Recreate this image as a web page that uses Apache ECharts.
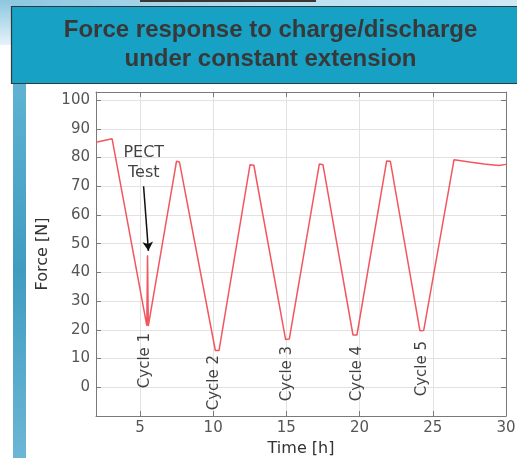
<!DOCTYPE html>
<html>
<head>
<meta charset="utf-8">
<script src="https://cdn.jsdelivr.net/npm/echarts@6/dist/echarts.min.js"></script>
<style>
html,body{margin:0;padding:0;background:#fff;}
#chart{width:517px;height:458px;}
</style>
</head>
<body>
<div id="chart"></div>
<script>
// ---- data ----
const timeH  = [2, 3.1, 5.47, 5.52, 5.57, 7.5, 7.7, 10.15, 10.4, 12.52, 12.78, 14.95, 15.2, 17.25, 17.5, 19.55, 19.82, 21.85, 22.1, 24.12, 24.38, 26.45, 27.5, 28.5, 29.5, 30];
const forceN = [85.3, 86.5, 21.5, 46, 21.3, 78.7, 78.4, 12.8, 12.8, 77.5, 77.3, 16.6, 16.8, 77.7, 77.5, 18.2, 18.2, 78.8, 78.7, 19.7, 19.8, 79.2, 78.4, 77.7, 77.2, 77.6];
const cycleNames = ['Cycle 1', 'Cycle 2', 'Cycle 3', 'Cycle 4', 'Cycle 5'];
const cycleTime  = [5.36, 10.09, 15.03, 19.8, 24.24];
const cycleForce = [9.3, 1.6, 4.8, 4.8, 6.5];
const pectLabel = 'PECT\nTest';
const pectAt = [5.26, 78.1];
const arrowFrom = [5.25, 70];
const arrowTo = [5.58, 47.5];
const titleLines = ['Force response to charge/discharge', 'under constant extension'];
const xTicks = [5, 10, 15, 20, 25, 30];
const yTicks = [0, 10, 20, 30, 40, 50, 60, 70, 80, 90, 100];

const lineData = timeH.map((t, i) => [t, forceN[i]]);
const cycleData = cycleNames.map((n, i) => ({ name: n, value: [cycleTime[i], cycleForce[i]] }));

const axisGray = '#7a7a7a';
const chart = echarts.init(document.getElementById('chart'), null, { renderer: 'canvas' });

const baseX = {
  type: 'value', min: 2, max: 30, splitNumber: 6,
  axisLine: { show: true, onZero: false, lineStyle: { color: axisGray, width: 1 } },
  axisTick: { show: true, inside: true, length: 5, lineStyle: { color: axisGray } }
};
const baseY = {
  type: 'value', min: -10, max: 102.8, interval: 10,
  axisLine: { show: true, onZero: false, lineStyle: { color: axisGray, width: 1 } },
  axisTick: { show: true, inside: true, length: 5, lineStyle: { color: axisGray } }
};

chart.setOption({
  animation: false,
  textStyle: { fontFamily: 'DejaVu Sans' },
  graphic: [
    { type: 'rect', shape: { x: 0, y: 0, width: 517, height: 7 }, style: { fill: new echarts.graphic.LinearGradient(0, 0, 1, 0, [{ offset: 0, color: '#8cc6df' }, { offset: 0.5, color: '#b9def0' }, { offset: 1, color: '#cfe8f4' }]) }, z: 0 },
    { type: 'rect', shape: { x: 140, y: 0, width: 176, height: 2 }, style: { fill: '#3b3631' }, z: 1 },
    { type: 'rect', shape: { x: 0, y: 0, width: 12, height: 45 }, style: { fill: new echarts.graphic.LinearGradient(0, 0, 0, 1, [{ offset: 0, color: '#8cc6df' }, { offset: 1, color: '#e6f3f9' }]) }, z: 0 },
    { type: 'rect', shape: { x: 13, y: 83, width: 13, height: 375 }, style: { fill: new echarts.graphic.LinearGradient(0, 0, 0, 1, [{ offset: 0, color: '#5fb2d2' }, { offset: 0.5, color: '#3f9cc0' }, { offset: 1, color: '#6cb6d6' }]) }, z: 0 },
    { type: 'rect', shape: { x: 11.5, y: 6.5, width: 510, height: 77 }, style: { fill: '#17a1c5', stroke: '#2d3b40', lineWidth: 1.2 }, z: 2 },
    { type: 'text', x: 270.5, y: 45, z: 3,
      style: { text: titleLines.join('\n'), textAlign: 'center', textVerticalAlign: 'middle',
        font: 'bold 24px "Liberation Sans", Arial, sans-serif', lineHeight: 29, fill: '#383838' } }
  ],
  grid: { left: 96, right: 11, top: 92, bottom: 42, containLabel: false, outerBoundsMode: 'none' },
  xAxis: [
    Object.assign({}, baseX, {
      position: 'bottom',
      axisLabel: { color: '#555', fontSize: 15, margin: 5, formatter: v => xTicks.includes(v) ? String(v) : '' },
      splitLine: { show: true, lineStyle: { color: '#e2e2e2', width: 1 } },
      name: 'Time [h]', nameLocation: 'middle', nameGap: 24,
      nameTextStyle: { color: '#333', fontSize: 16 }
    }),
    Object.assign({}, baseX, {
      position: 'top', axisLabel: { show: false }, splitLine: { show: false }
    })
  ],
  yAxis: [
    Object.assign({}, baseY, {
      position: 'left',
      axisLabel: { color: '#555', fontSize: 15, margin: 6, formatter: v => yTicks.includes(v) ? String(v) : '' },
      splitLine: { show: true, lineStyle: { color: '#e2e2e2', width: 1 } },
      name: 'Force [N]', nameLocation: 'middle', nameGap: 38,
      nameTextStyle: { color: '#333', fontSize: 16 }
    }),
    Object.assign({}, baseY, {
      position: 'right', axisLabel: { show: false }, splitLine: { show: false }
    })
  ],
  series: [
    {
      type: 'line', xAxisIndex: 0, yAxisIndex: 0, data: lineData,
      showSymbol: false, symbol: 'none',
      lineStyle: { color: '#f2565e', width: 1.5 },
      z: 3,
      markLine: {
        silent: true, animation: false,
        symbol: ['none', 'arrow'], symbolSize: [8, 9],
        label: { show: false },
        lineStyle: { color: '#111', width: 1.5, type: 'solid' },
        data: [[{ coord: arrowFrom }, { coord: arrowTo }]]
      }
    },
    {
      type: 'scatter', xAxisIndex: 0, yAxisIndex: 0, symbolSize: 0,
      data: cycleData, silent: true, z: 4,
      label: { show: true, position: 'inside', rotate: 90, formatter: p => p.name,
        color: '#111', fontSize: 15, fontFamily: 'DejaVu Sans' }
    },
    {
      type: 'scatter', xAxisIndex: 0, yAxisIndex: 0, symbolSize: 0,
      data: [{ name: pectLabel, value: pectAt }], silent: true, z: 4,
      label: { show: true, position: 'inside', formatter: p => p.name, lineHeight: 20,
        color: '#111', fontSize: 16, fontFamily: 'DejaVu Sans' }
    }
  ]
});
</script>
</body>
</html>
